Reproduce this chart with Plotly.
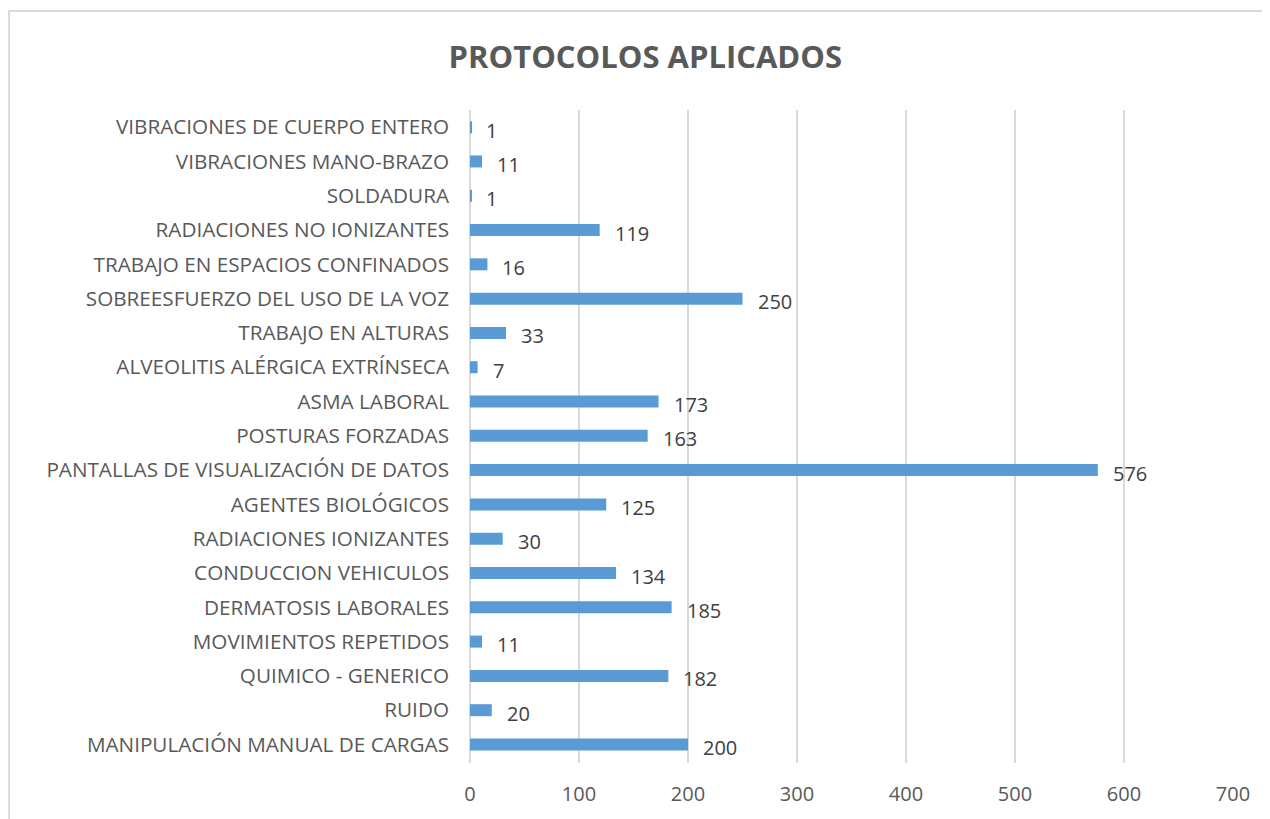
import plotly.graph_objects as go

# data, bottom to top as drawn
categories = [
    "MANIPULACIÓN MANUAL DE CARGAS", "RUIDO", "QUIMICO - GENERICO",
    "MOVIMIENTOS REPETIDOS", "DERMATOSIS LABORALES", "CONDUCCION VEHICULOS",
    "RADIACIONES IONIZANTES", "AGENTES BIOLÓGICOS",
    "PANTALLAS DE VISUALIZACIÓN DE DATOS", "POSTURAS FORZADAS", "ASMA LABORAL",
    "ALVEOLITIS ALÉRGICA EXTRÍNSECA", "TRABAJO EN ALTURAS",
    "SOBREESFUERZO DEL USO DE LA VOZ", "TRABAJO EN ESPACIOS CONFINADOS",
    "RADIACIONES NO IONIZANTES", "SOLDADURA", "VIBRACIONES MANO-BRAZO",
    "VIBRACIONES DE CUERPO ENTERO",
]
values = [200, 20, 182, 11, 185, 134, 30, 125, 576, 163, 173, 7, 33, 250, 16, 119, 1, 11, 1]
x_ticks = [0, 100, 200, 300, 400, 500, 600, 700]

BAR = "#5B9BD5"
INK = "#595959"
LBL = "#404040"
GRID = "#D9D9D9"
FONT = "Open Sans, Noto Sans, sans-serif"

fig = go.Figure(go.Bar(x=values, y=categories, orientation="h", width=0.35,
                       marker=dict(color=BAR, line=dict(width=0)),
                       hoverinfo="x+y"))

# data labels (Excel style: outside end, a bit of gap)
for c, v in zip(categories, values):
    fig.add_annotation(x=v, y=c, text=str(v), showarrow=False, xanchor="left",
                       xshift=13, yshift=-3, font=dict(size=20, color=LBL))

# chart border (top-left visible, rest cropped)
fig.add_shape(type="rect", xref="paper", yref="paper", x0=-0.6040, x1=1.2,
              y0=-0.3, y1=1.1516, line=dict(color=GRID, width=2), layer="below")

fig.update_xaxes(range=[0, 700], tickvals=x_ticks, showgrid=True, gridcolor=GRID,
                 gridwidth=1.5, zeroline=True, zerolinecolor=GRID, zerolinewidth=1.5,
                 showline=False, ticks="", tickfont=dict(size=20, color=INK),
                 ticklabelstandoff=17, fixedrange=True)
fig.update_yaxes(type="category", showgrid=False, showline=False, ticks="",
                 tickfont=dict(size=20.7, color=INK), ticklabelstandoff=20,
                 fixedrange=True)

# page body adds an 8px offset, so the figure is sized/margined to compensate
fig.update_layout(
    title=dict(text="<b>PROTOCOLOS APLICADOS</b>", x=0.505, xanchor="center",
               y=0.94, yanchor="middle", font=dict(size=31, color=INK)),
    font=dict(family=FONT, color=INK),
    paper_bgcolor="white", plot_bgcolor="white",
    margin=dict(l=462, r=37, t=102, b=56),
    width=1262, height=811, showlegend=False, bargap=0.65,
)

fig.write_html("out.html")
